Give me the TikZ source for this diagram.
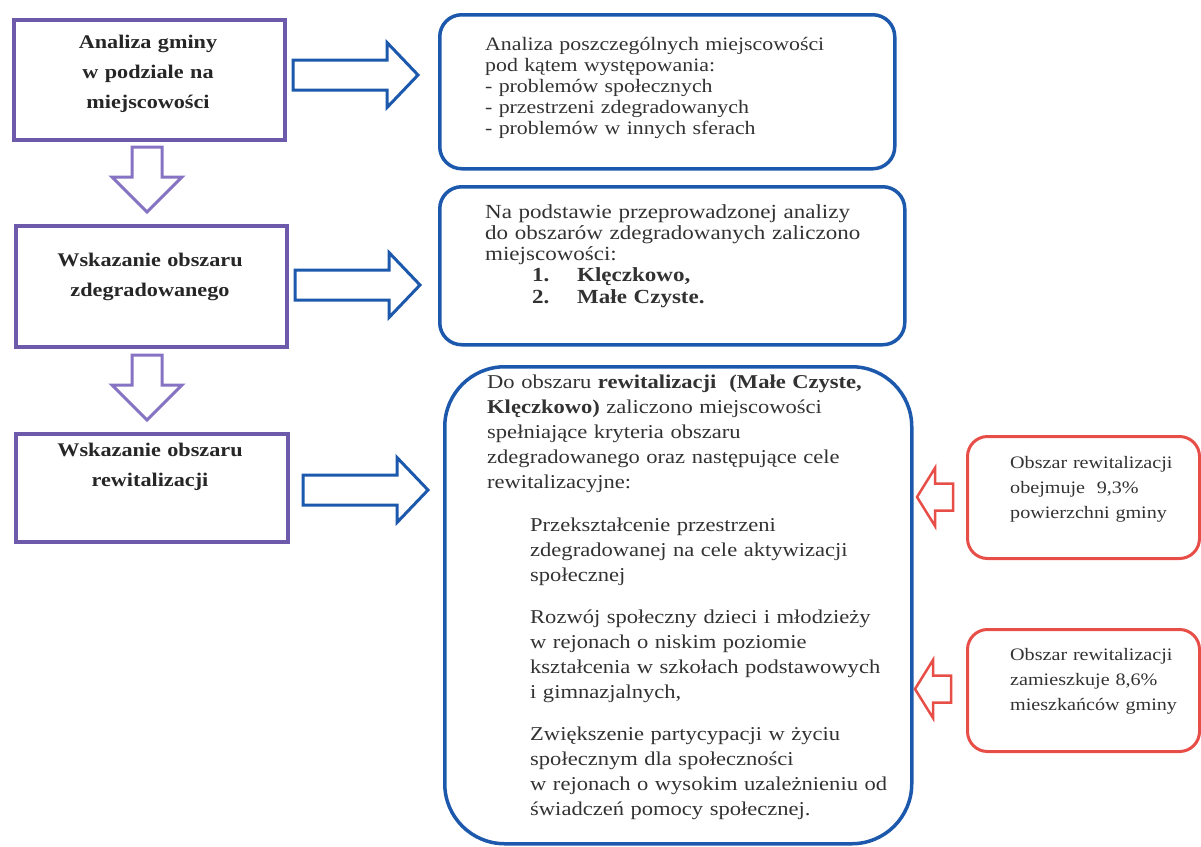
\documentclass[tikz,border=0pt]{standalone}
\usepackage{fontspec}
\setmainfont{Liberation Serif}[FakeStretch=1.15]
\usetikzlibrary{calc}
\definecolor{purp}{RGB}{110,90,170}
\definecolor{purpl}{RGB}{135,115,195}
\definecolor{blu}{RGB}{28,88,172}
\definecolor{rd}{RGB}{232,78,72}
\definecolor{txt}{RGB}{50,50,50}
\begin{document}
\begin{tikzpicture}[x=1pt,y=-1pt,
  pbox/.style={draw=purp, line width=3.5pt, rectangle, inner sep=0, anchor=north west},
  bbox/.style={draw=blu, line width=3.5pt, rectangle, rounded corners=22pt, inner sep=0, anchor=north west},
  rbox/.style={draw=rd, line width=3pt, rectangle, rounded corners=20pt, inner sep=0, anchor=north west},
  ptext/.style={anchor=base, inner sep=0, text width=260pt, align=center, text=black!85,
    font=\fontsize{19.3}{30}\selectfont\bfseries},
  btext/.style={anchor=base west, inner sep=0, text width=420pt, align=left, text=txt,
    font=\fontsize{19}{21}\selectfont},
  ctext/.style={anchor=base west, inner sep=0, text width=420pt, align=left, text=txt,
    font=\fontsize{19.6}{25}\selectfont},
  rtext/.style={anchor=base west, inner sep=0, text width=180pt, align=left, text=txt,
    font=\fontsize{17.5}{25}\selectfont},
  rarrow/.pic={\draw[blu, line width=3pt, fill=white] (0,-15) -- (94,-15) -- (94,-32.5) -- (125,0) -- (94,32.5) -- (94,15) -- (0,15) -- cycle;},
  darrow/.pic={\draw[purpl, line width=3pt, fill=white] (-15,0) -- (-15,30) -- (-35,30) -- (0,65) -- (35,30) -- (15,30) -- (15,0) -- cycle;},
  larrow/.pic={\draw[rd, line width=2.5pt, fill=white] (0,0) -- (18,-29) -- (18,-13.5) -- (36,-13.5) -- (36,13.5) -- (18,13.5) -- (18,29) -- cycle;}
]
\useasboundingbox (0,0) rectangle (1201,846);

% purple boxes
\node[pbox, minimum width=271pt, minimum height=120pt] (p1) at (12,18) {};
\node[pbox, minimum width=271pt, minimum height=121pt] (p2) at (14,224) {};
\node[pbox, minimum width=272pt, minimum height=108pt] (p3) at (14,432) {};
\node[ptext] (tp1) at (148,48) {Analiza gminy\\ w podziale na\\ miejscowości};
\node[ptext] (tp2) at (150,266) {Wskazanie obszaru\\ zdegradowanego};
\node[ptext] (tp3) at (150,456) {Wskazanie obszaru\\ rewitalizacji};

% blue boxes
\node[bbox, minimum width=455pt, minimum height=154pt] (bA) at (438,13) {};
\node[bbox, minimum width=465pt, minimum height=158pt] (bB) at (438,185) {};
\node[bbox, rounded corners=60pt, minimum width=467pt, minimum height=477pt] (bC) at (443,365) {};

\node[btext] (tA) at (485,50) {Analiza poszczególnych miejscowości\\ pod kątem występowania:\\ - problemów społecznych\\ - przestrzeni zdegradowanych\\ - problemów w innych sferach};

\node[btext, font=\fontsize{20}{21.3}\selectfont] (tB) at (485,218) {Na podstawie przeprowadzonej analizy\\ do obszarów zdegradowanych zaliczono\\ miejscowości:\\
\hspace*{47pt}\makebox[45pt][l]{\textbf{1.}}\textbf{Klęczkowo,}\\
\hspace*{47pt}\makebox[45pt][l]{\textbf{2.}}\textbf{Małe Czyste.}};

\node[ctext] (tC) at (487,388) {Do obszaru \textbf{rewitalizacji\ \ (Małe Czyste,}\\
\textbf{Klęczkowo)} zaliczono miejscowości\\
spełniające kryteria obszaru\\
zdegradowanego oraz następujące cele\\
rewitalizacyjne:\\[18pt]
\hspace*{43pt}Przekształcenie przestrzeni\\
\hspace*{43pt}zdegradowanej na cele aktywizacji\\
\hspace*{43pt}społecznej\\[17pt]
\hspace*{43pt}Rozwój społeczny dzieci i młodzieży\\
\hspace*{43pt}w rejonach o niskim poziomie\\
\hspace*{43pt}kształcenia w szkołach podstawowych\\
\hspace*{43pt}i gimnazjalnych,\\[17pt]
\hspace*{43pt}Zwiększenie partycypacji w życiu\\
\hspace*{43pt}społecznym dla społeczności\\
\hspace*{43pt}w rejonach o wysokim uzależnieniu od\\
\hspace*{43pt}świadczeń pomocy społecznej.};

% red boxes
\node[rbox, minimum width=232pt, minimum height=122pt] (r1) at (966,435) {};
\node[rbox, minimum width=232pt, minimum height=122pt] (r2) at (966,628) {};
\node[rtext] (tr1) at (1010,468) {Obszar rewitalizacji\\ obejmuje\ \ 9,3\%\\ powierzchni gminy};
\node[rtext] (tr2) at (1010,660) {Obszar rewitalizacji\\ zamieszkuje 8,6\%\\ mieszkańców gminy};

% block arrows
\pic at (293,75) {rarrow};
\pic at (295,285) {rarrow};
\pic at (303,490) {rarrow};
\pic at (147,147) {darrow};
\pic at (147,355) {darrow};
\pic at (917,497) {larrow};
\pic at (915,689) {larrow};
\end{tikzpicture}
\end{document}
